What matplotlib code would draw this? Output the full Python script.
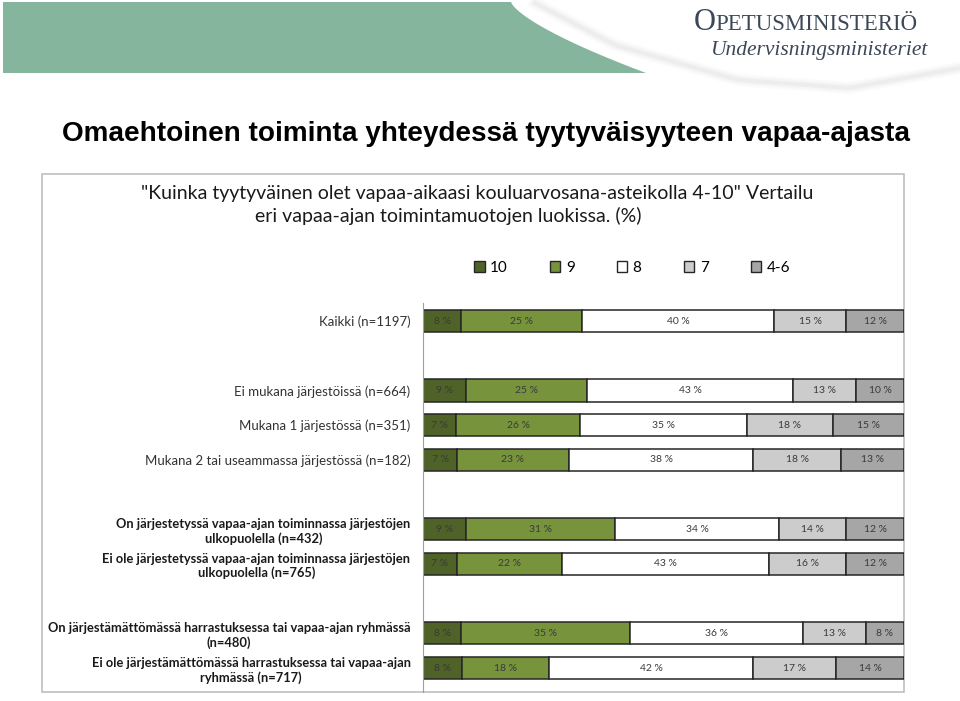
import numpy as np
import matplotlib
matplotlib.use("Agg")
import matplotlib.pyplot as plt
from matplotlib.patches import Polygon, Rectangle, Patch

# Grades (legend order) and bar colours
grades = ["10", "9", "8", "7", "4-6"]
colors = ["#4F6228", "#77933C", "#FFFFFF", "#CCCCCC", "#A6A6A6"]

# Groups of respondents, each group separated by an empty row
groups = [
    ["Kaikki (n=1197)"],
    ["Ei mukana järjestöissä (n=664)",
     "Mukana 1 järjestössä (n=351)",
     "Mukana 2 tai useammassa järjestössä (n=182)"],
    ["On järjestetyssä vapaa-ajan toiminnassa järjestöjen\nulkopuolella (n=432)",
     "Ei ole järjestetyssä vapaa-ajan toiminnassa järjestöjen\nulkopuolella (n=765)"],
    ["On järjestämättömässä harrastuksessa tai vapaa-ajan ryhmässä\n(n=480)",
     "Ei ole järjestämättömässä harrastuksessa tai vapaa-ajan\nryhmässä (n=717)"],
]

# Percentages per row: 10, 9, 8, 7, 4-6
pct = [
    [8, 25, 40, 15, 12],
    [9, 25, 43, 13, 10],
    [7, 26, 35, 18, 15],
    [7, 23, 38, 18, 13],
    [9, 31, 34, 14, 12],
    [7, 22, 43, 16, 12],
    [8, 35, 36, 13, 8],
    [8, 18, 42, 17, 14],
]

W, H = 960, 701
fig = plt.figure(figsize=(W / 100, H / 100), dpi=100)

def fx(px):
    return px / W

def fy(py):
    return 1 - py / H

# ---- slide header: green band and white swoosh
t = np.linspace(0, 1, 30)
edge_x = 511 + 135 * t ** 1.4
edge_y = 2 + 71 * t
band = [(fx(3), fy(2))] + [(fx(x), fy(y)) for x, y in zip(edge_x, edge_y)] + [(fx(3), fy(73))]
fig.patches.append(Polygon(band, closed=True, transform=fig.transFigure,
                           facecolor="#86B59E", edgecolor="none", zorder=0))
sx = np.array([535, 615, 738, 849, 960])
sy = np.array([3, 45, 80, 88, 68])
ss = np.linspace(0, 1, 60)
cx = np.interp(ss, np.linspace(0, 1, 5), sx)
cy = np.interp(ss, np.linspace(0, 1, 5), sy)
for lw, a in [(9, 0.03), (6, 0.05), (3, 0.07)]:
    fig.add_artist(plt.Line2D(fx(cx), fy(cy), transform=fig.transFigure,
                              color="#909090", lw=lw, alpha=a, zorder=0))

fig.text(fx(694), fy(23), "O", family="Liberation Serif", fontsize=22,
         color="#3C4858", va="center", ha="left")
fig.text(fx(715), fy(25), "PETUSMINISTERIÖ", family="Liberation Serif", fontsize=16.5,
         color="#3C4858", va="center", ha="left")
fig.text(fx(927), fy(50), "Undervisningsministeriet", family="Liberation Serif",
         style="italic", fontsize=15.5, color="#3C4858", va="center", ha="right")

# ---- slide title
fig.text(fx(62), fy(134), "Omaehtoinen toiminta yhteydessä tyytyväisyyteen vapaa-ajasta",
         family="Liberation Sans", weight="bold", fontsize=20.1, va="center", ha="left")

# ---- chart box
fig.patches.append(Rectangle((fx(42), fy(692)), fx(904 - 42), (692 - 174) / H,
                             transform=fig.transFigure, facecolor="white",
                             edgecolor="#BFBFBF", lw=1.2, zorder=0))

fig.text(fx(477), fy(193), "\"Kuinka tyytyväinen olet vapaa-aikaasi kouluarvosana-asteikolla 4-10\" Vertailu",
         family="Lato", fontsize=14, va="center", ha="center", color="#1A1A1A")
fig.text(fx(448), fy(216), "eri vapaa-ajan toimintamuotojen luokissa. (%)",
         family="Lato", fontsize=14, va="center", ha="center", color="#1A1A1A")

# ---- bars
ax = fig.add_axes([fx(423), fy(692), fx(904 - 423), (692 - 303) / H])
ax.set_facecolor("none")
ax.set_zorder(5)

labels = []
ypos = []
pos = 0
for g in groups:
    for lab in g:
        labels.append(lab)
        ypos.append(pos)
        pos += 1
    pos += 1
ypos = np.array(ypos)

vals = np.array(pct, dtype=float)
frac = vals / vals.sum(axis=1, keepdims=True)
left = np.zeros(len(labels))
for j, g in enumerate(grades):
    ax.barh(ypos, frac[:, j], left=left, height=0.64, color=colors[j],
            edgecolor="#262626", lw=1.1, label=g)
    for i in range(len(labels)):
        ax.text(left[i] + frac[i, j] / 2, ypos[i], f"{int(vals[i, j])} %",
                ha="center", va="center", fontsize=7.5, family="Lato", color="#3A3A3A")
    left += frac[:, j]

ax.set_xlim(0, 1)
ax.set_ylim(10.69, -0.52)
ax.set_xticks([])
ax.set_yticks(ypos)
ax.set_yticklabels(labels)
ax.tick_params(axis="y", length=0, pad=9)
for k, tl in enumerate(ax.get_yticklabels()):
    tl.set_multialignment("center")
    tl.set_family("Lato")
    if "\n" in labels[k]:
        tl.set_fontsize(9.3)
        tl.set_weight("bold")
        tl.set_color("#1A1A1A")
    else:
        tl.set_fontsize(9.5)
        tl.set_color("#333333")
for s in ["top", "right", "bottom"]:
    ax.spines[s].set_visible(False)
ax.spines["left"].set_color("#A0A0A0")

handles = [Patch(facecolor=c, edgecolor="#262626", lw=1) for c in colors]
fig.legend(handles, grades, loc="center", bbox_to_anchor=(fx(632), fy(268)),
           ncol=5, frameon=False, handlelength=0.7, handleheight=0.7,
           handletextpad=0.35, columnspacing=2.75,
           prop={"family": "Lato", "size": 11})

fig.savefig("out.png", dpi=100)
